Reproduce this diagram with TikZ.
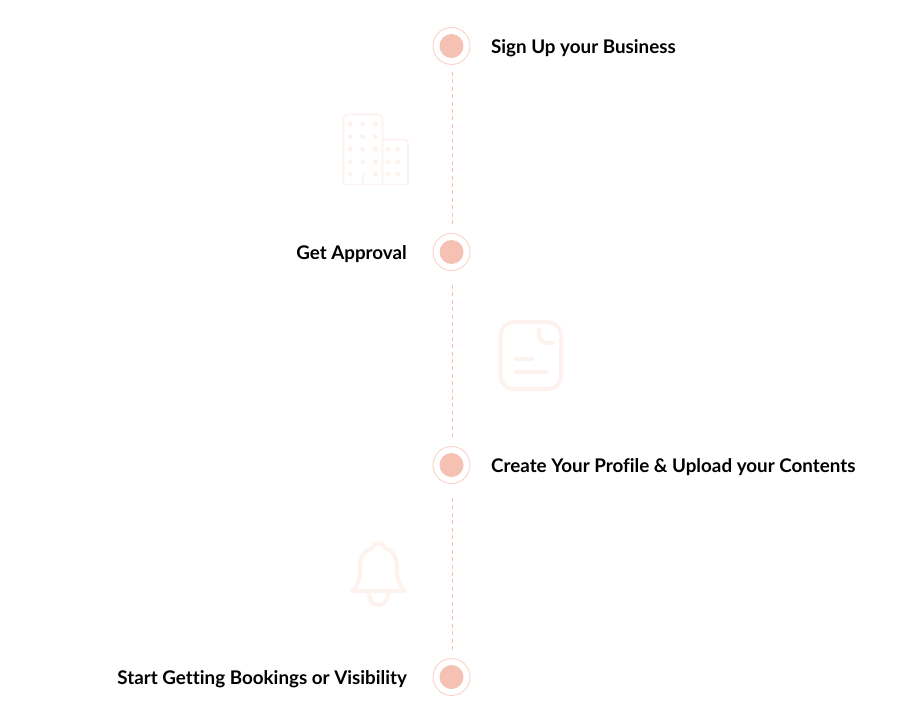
\documentclass[tikz,border=0pt]{standalone}
\usepackage{fontspec}
\usepackage{xcolor}
\setmainfont{Lato}[UprightFont=* Bold,Ligatures={NoCommon}]
\usetikzlibrary{positioning}
\definecolor{stepdot}{HTML}{F4C1B2}
\definecolor{stepring}{HTML}{F9D3C7}
\definecolor{steplink}{HTML}{FBBFA9}
\definecolor{iconpale}{HTML}{FDF2EE}
\tikzset{
  ringnode/.style={circle, draw=stepring, line width=0.9pt, minimum size=37pt, inner sep=0pt},
  dotnode/.style={circle, fill=stepdot, minimum size=24pt, inner sep=0pt},
  steplabel/.style={font=\fontsize{18.8}{20}\selectfont, text=black, inner sep=0pt, yshift=-2.2pt},
  linkline/.style={draw=steplink, line width=1.3pt, dash pattern=on 4pt off 3.4pt},
  iconthin/.style={draw=iconpale, line width=1.8pt},
  iconthick/.style={draw=iconpale, line width=4pt, line cap=round, line join=round},
}
\begin{document}
\begin{tikzpicture}[x=1pt, y=-1pt]
  \useasboundingbox (0,0) rectangle (921,725);
  % steps
  \node[ringnode] (signup) at (451.5,46) {};
  \node[ringnode] (approval) at (451.5,252) {};
  \node[ringnode] (profile) at (451.5,465) {};
  \node[ringnode] (bookings) at (451.5,677) {};
  \foreach \s in {signup,approval,profile,bookings}
    \node[dotnode] (\s dot) at (\s) {};
  \node[steplabel, right=20.5pt of signup, yshift=-0.4pt] (signuptext) {Sign Up your Business};
  \node[steplabel, left=25.5pt of approval] (approvaltext) {Get Approval};
  \node[steplabel, right=20.5pt of profile] (profiletext) {Create Your Profile \& Upload your Contents};
  \node[steplabel, left=25.5pt of bookings] (bookingstext) {Start Getting Bookings or Visibility};
  \draw[linkline, shorten <=26pt, shorten >=26pt] ([xshift=1pt]signup.center) -- ([xshift=1pt]approval.center);
  \draw[linkline, shorten <=33pt, shorten >=27pt] ([xshift=1pt]approval.center) -- ([xshift=1pt]profile.center);
  \draw[linkline, shorten <=33pt, shorten >=25pt] ([xshift=1pt]profile.center) -- ([xshift=1pt]bookings.center);
  % building
  \draw[iconthin, rounded corners=4pt] (343.5,184.5) -- (343.5,114.5) -- (382.5,114.5) -- (382.5,184.5);
  \draw[iconthin, rounded corners=4pt] (382.5,139.5) -- (408,139.5) -- (408,184.5);
  \draw[iconthin] (343.5,184.5) -- (408,184.5);
  \draw[iconthin] (362.7,174) -- (362.7,184.5);
  \foreach \x in {350,362.7,375.3}
    \foreach \y in {124.3,136.7,149.3,161.7}
      \fill[iconpale] (\x,\y) circle (2.5pt);
  \foreach \x in {350,375.3}
    \fill[iconpale] (\x,174.3) circle (2.5pt);
  \foreach \x in {387.7,397.7}
    \foreach \y in {149.3,161.7,174.3}
      \fill[iconpale] (\x,\y) circle (2.5pt);
  % page
  \draw[iconthick, rounded corners=13pt] (500.5,322) rectangle (561,389);
  \draw[iconthick] (539,329) -- (539,335) .. controls (539,340) and (543,343) .. (547,343) -- (553,343);
  \draw[iconthick] (516,359) -- (532,359);
  \draw[iconthick] (516,372) -- (546,372);
  % bell
  \draw[iconthick] (352.5,591) -- (405,591)
    .. controls (399,586) and (397,578) .. (397,570)
    -- (397,566) .. controls (397,556) and (391,550) .. (385,548)
    .. controls (384,544) and (381,543) .. (378.7,543)
    .. controls (376,543) and (373.5,544) .. (372.5,548)
    .. controls (366,550) and (360,556) .. (360,566)
    -- (360,570) .. controls (360,578) and (358,586) .. (352.5,591);
  \draw[iconthick] (369,592) .. controls (369,601) and (373,605) .. (378.7,605)
    .. controls (384,605) and (388,601) .. (388,592);
\end{tikzpicture}
\end{document}
